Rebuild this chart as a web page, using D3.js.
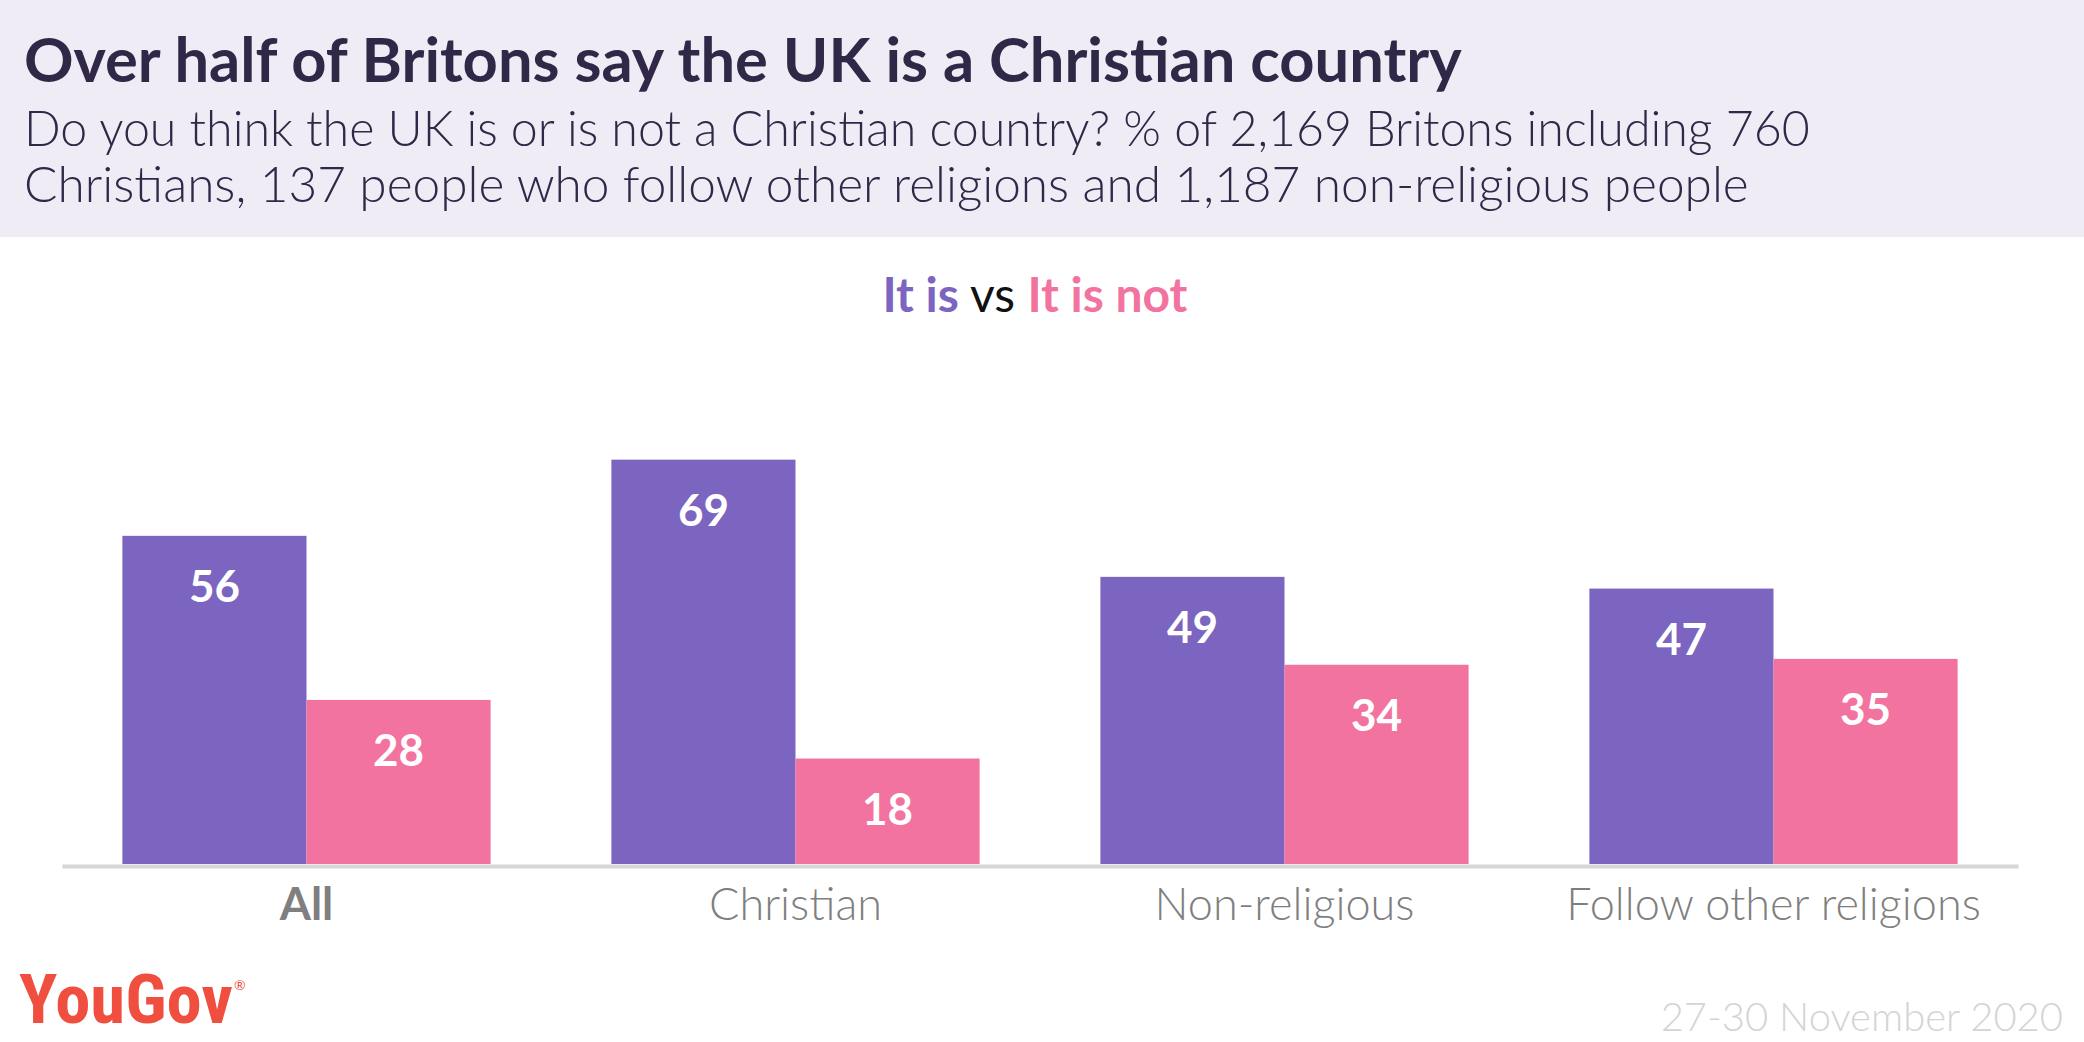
<!DOCTYPE html>
<html><head><meta charset="utf-8">
<script src="https://cdn.jsdelivr.net/npm/d3@7"></script>
<style>
body{margin:0;background:#fff;}
svg{display:block;}
text{font-family:Lato,"Open Sans",sans-serif;}
</style></head>
<body><svg id="c" width="2084" height="1042"></svg>
<script>
const categories = ["All","Christian","Non-religious","Follow other religions"];
const seriesNames = ["It is","It is not"];
const itIs = [56,69,49,47];
const itIsNot = [28,18,34,35];
const titleText = "Over half of Britons say the UK is a Christian country";
const subtitleLines = ["Do you think the UK is or is not a Christian country? % of 2,169 Britons including 760",
  "Christians, 137 people who follow other religions and 1,187 non-religious people"];
const dateText = "27-30 November 2020";

const W=2084,H=1042;
const colors = {"It is":"#7c65c0","It is not":"#f373a0"};
const svg = d3.select("#c");

svg.append("rect").attr("x",0).attr("y",0).attr("width",W).attr("height",237).attr("fill","#efecf6");

function fit(sel, target){
  const fs = parseFloat(sel.attr("font-size"));
  const w = sel.node().getComputedTextLength();
  sel.attr("font-size", fs*target/w);
}

const t = svg.append("text").attr("x",24).attr("y",82).attr("font-size",56).attr("font-weight",700)
  .attr("fill","#312848").text(titleText);
fit(t,1438);
const s1 = svg.append("text").attr("x",24).attr("y",146).attr("font-size",44).attr("font-weight",300)
  .attr("fill","#312848").text(subtitleLines[0]);
fit(s1,1786);
const s2 = svg.append("text").attr("x",24).attr("y",202).attr("font-size",44).attr("font-weight",300)
  .attr("fill","#312848").text(subtitleLines[1]);
fit(s2,1725);

// legend
const lg = svg.append("text").attr("x",1035).attr("y",312).attr("text-anchor","middle").attr("font-size",48);
lg.append("tspan").attr("font-weight",700).attr("fill",colors["It is"]).text(seriesNames[0]);
lg.append("tspan").attr("font-weight",400).attr("fill","#111").text(" vs ");
lg.append("tspan").attr("font-weight",700).attr("fill",colors["It is not"]).text(seriesNames[1]);

const x0 = d3.scaleBand().domain(categories).range([62,2018]).paddingInner(0.247).paddingOuter(0.1235);
const x1 = d3.scaleBand().domain(seriesNames).range([0,x0.bandwidth()]);
const y = d3.scaleLinear().domain([0,100]).range([864,278]);

const data = categories.map((c,i)=>({cat:c, vals:[{k:seriesNames[0],v:itIs[i]},{k:seriesNames[1],v:itIsNot[i]}]}));

const g = svg.append("g").selectAll("g").data(data).join("g")
  .attr("transform",d=>`translate(${x0(d.cat)},0)`);
g.selectAll("rect").data(d=>d.vals).join("rect")
  .attr("x",d=>x1(d.k)).attr("width",x1.bandwidth())
  .attr("y",d=>y(d.v)).attr("height",d=>y(0)-y(d.v))
  .attr("fill",d=>colors[d.k]);
g.selectAll("text.v").data(d=>d.vals).join("text").attr("class","v")
  .attr("x",d=>x1(d.k)+x1.bandwidth()/2).attr("y",d=>y(d.v)+66)
  .attr("text-anchor","middle").attr("font-size",44).attr("font-weight",700).attr("fill","#fff")
  .text(d=>d.v);

const ax = svg.append("g").attr("transform","translate(0,866)")
  .call(d3.axisBottom(x0).tickSize(0).tickPadding(22));
ax.select(".domain").attr("stroke","#d6d6d6").attr("stroke-width",4);
ax.selectAll(".tick text").attr("font-size",45).attr("fill","#7f7f7f")
  .attr("font-weight",d=>d==="All"?700:300).style("font-family","Lato, sans-serif");

// logo
const logo = svg.append("text").attr("x",19).attr("y",1023).attr("font-size",68)
  .attr("fill","#f04e3e").attr("font-weight",700)
  .style("font-family","'Liberation Sans Narrow','Roboto Condensed',Roboto,sans-serif")
  .attr("textLength",214).attr("lengthAdjust","spacingAndGlyphs").text("YouGov");
svg.append("text").attr("x",234).attr("y",990).attr("font-size",14).attr("fill","#f04e3e").text("®");

svg.append("text").attr("x",2063).attr("y",1031).attr("text-anchor","end").attr("font-size",40)
  .attr("font-weight",300).attr("fill","#d4d4d4").text(dateText);
</script></body></html>
